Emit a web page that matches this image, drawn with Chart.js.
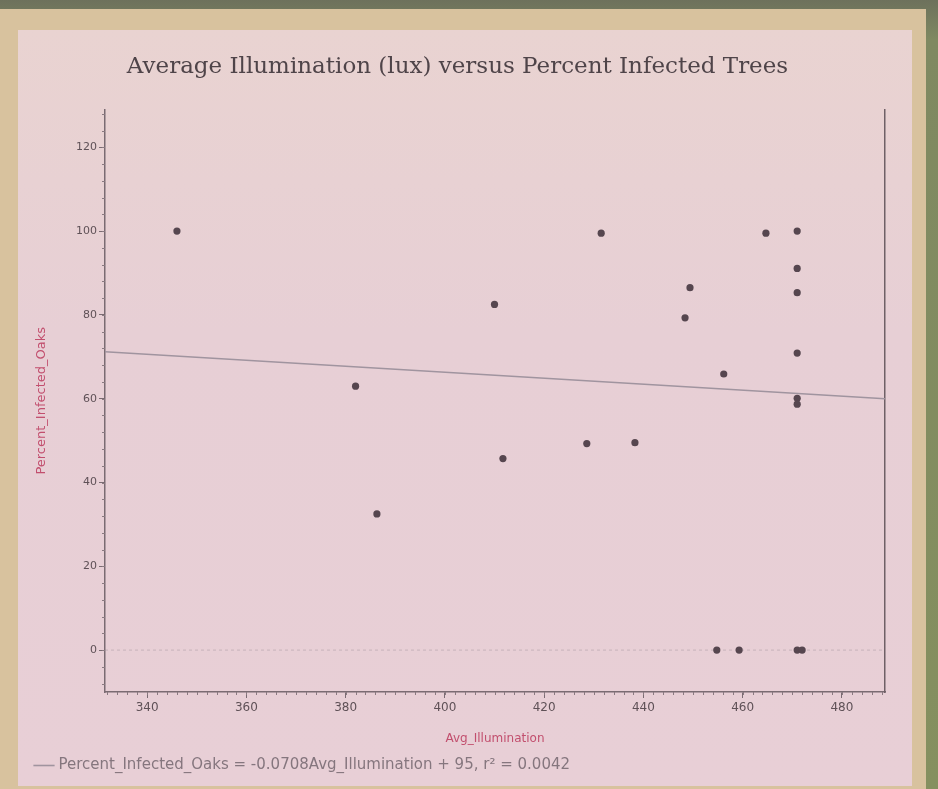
<!DOCTYPE html>
<html>
<head>
<meta charset="utf-8">
<title>Average Illumination versus Percent Infected Trees</title>
<script src="https://cdn.jsdelivr.net/npm/chart.js@4.4.1/dist/chart.umd.min.js"></script>
<style>
    html, body { margin: 0; padding: 0; }
    body { width: 938px; height: 789px; overflow: hidden; position: relative;
           background: linear-gradient(#6d715c 0px, #7f8961 40px, #85905f 100%); }
    #frame { position: absolute; left: 0; top: 9px; width: 926px; height: 780px; background: #d8c29e; }
    #card { position: absolute; left: 18px; top: 30px; width: 894px; height: 756px;
            background: linear-gradient(#e9d3d1, #e7cfd5 40%, #e8cfd6); }
    #chartBox { position: absolute; left: 0; top: 0; width: 938px; height: 789px; }
</style>
</head>
<body>
<div id="frame"></div>
<div id="card"></div>
<div id="chartBox"><canvas id="illumChart"></canvas></div>

<script>
// Values
const illumination = [346, 382, 386.3, 410, 411.7, 428.6, 431.5, 438.3, 448.4, 449.4, 456.2,
                      454.8, 459.3, 464.7, 471, 471, 471, 471, 471, 471, 471, 472];
const percentInfected = [100, 63, 32.5, 82.5, 45.7, 49.3, 99.5, 49.5, 79.3, 86.5, 65.9,
                         0, 0, 99.5, 100, 91.1, 85.3, 70.9, 60.1, 58.7, 0, 0];
// fitted line, end points as drawn
const trendX = [331.5, 488.7];
const trendY = [71.2, 60.0];
const zeroX = [331.5, 488.7];
const zeroY = [0, 0];
const xTicks = [340, 360, 380, 400, 420, 440, 460, 480];
const yTicks = [0, 20, 40, 60, 80, 100, 120];
const trendLabel = "Percent_Infected_Oaks = -0.0708Avg_Illumination + 95, r\u00b2 = 0.0042";

const axisGray = '#5f5157';
const titleRed = '#c24f6e';
const sans = '"DejaVu Sans", sans-serif';

let toPoints = (xs, ys) => xs.map((x, i) => ({x: x, y: ys[i]}));

// small ticks between the labelled ones
const minorTicks = {
    id: 'minorTicks',
    afterDraw(chart) {
        const ctx = chart.ctx;
        const x = chart.scales.x;
        const y = chart.scales.y;
        ctx.save();
        ctx.strokeStyle = '#8a7a81';
        ctx.lineWidth = 1;
        ctx.beginPath();
        for (let v = 332; v <= 488; v += 2) {
            let px = Math.round(x.getPixelForValue(v)) + 0.5;
            ctx.moveTo(px, x.top);
            ctx.lineTo(px, x.top + 3);
        }
        for (let v = -8; v <= 128; v += 4) {
            let py = Math.round(y.getPixelForValue(v)) + 0.5;
            ctx.moveTo(y.right - 3, py);
            ctx.lineTo(y.right, py);
        }
        ctx.stroke();
        ctx.restore();
    }
};

const ctx = document.getElementById('illumChart').getContext('2d');
const illumChart = new Chart(ctx, {
    type: 'scatter',
    data: {
        datasets: [{
            label: 'points',
            data: toPoints(illumination, percentInfected),
            backgroundColor: '#56464f',
            borderWidth: 0,
            pointRadius: 3.6,
            order: 1
        }, {
            label: trendLabel,
            data: toPoints(trendX, trendY),
            showLine: true,
            borderColor: '#a0949f',
            backgroundColor: '#a0949f',
            borderWidth: 1.6,
            pointRadius: 0,
            order: 2
        }, {
            label: 'zero',
            data: toPoints(zeroX, zeroY),
            showLine: true,
            borderColor: 'rgba(150, 140, 148, 0.4)',
            borderWidth: 1,
            borderDash: [3, 3],
            pointRadius: 0,
            order: 3
        }]
    },
    options: {
        responsive: true,
        maintainAspectRatio: false,
        animation: false,
        layout: {
            padding: { left: 30, right: 53, top: 0, bottom: 6 }
        },
        plugins: {
            title: {
                display: true,
                text: 'Average Illumination (lux) versus Percent Infected Trees',
                color: '#4f4449',
                font: { family: '"DejaVu Serif", "Liberation Serif", serif', size: 23, weight: 'normal' },
                padding: { top: 53, bottom: 29 }
            },
            legend: {
                position: 'bottom',
                align: 'start',
                labels: {
                    filter: (item) => item.datasetIndex === 1,
                    usePointStyle: true,
                    pointStyle: 'line',
                    boxWidth: 14,
                    padding: 7,
                    color: '#85767e',
                    font: { family: sans, size: 15 }
                }
            },
            tooltip: { enabled: false }
        },
        scales: {
            x: {
                type: 'linear',
                min: 331.5,
                max: 488.7,
                afterBuildTicks: (scale) => { scale.ticks = xTicks.map(v => ({value: v})); },
                afterFit: (scale) => { scale.height = 59; },
                ticks: {
                    color: axisGray,
                    padding: 3,
                    font: { family: sans, size: 12 }
                },
                grid: { drawOnChartArea: false, drawTicks: true, tickLength: 6, tickColor: '#7a6b72' },
                border: { display: true, color: '#7a6b72', width: 1.5 },
                title: {
                    display: true,
                    text: 'Avg_Illumination',
                    color: titleRed,
                    font: { family: sans, size: 12 },
                    padding: { top: 4, bottom: 5 }
                }
            },
            y: {
                type: 'linear',
                min: -10,
                max: 129,
                afterBuildTicks: (scale) => { scale.ticks = yTicks.map(v => ({value: v})); },
                afterFit: (scale) => { scale.width = 75; },
                ticks: {
                    color: axisGray,
                    padding: 2,
                    font: { family: sans, size: 11 }
                },
                grid: { drawOnChartArea: false, drawTicks: true, tickLength: 6, tickColor: '#7a6b72' },
                border: { display: true, color: '#7a6b72', width: 1.5 },
                title: {
                    display: true,
                    text: 'Percent_Infected_Oaks',
                    color: titleRed,
                    font: { family: sans, size: 13 },
                    padding: { top: 4, bottom: 4 }
                }
            },
            yRight: {
                type: 'linear',
                position: 'right',
                min: -10,
                max: 129,
                afterFit: (scale) => { scale.width = 0; },
                ticks: { display: false },
                grid: { drawOnChartArea: false, drawTicks: false },
                border: { display: true, color: '#6f6066', width: 1.5 }
            }
        }
    },
    plugins: [minorTicks]
});
</script>
</body>
</html>
